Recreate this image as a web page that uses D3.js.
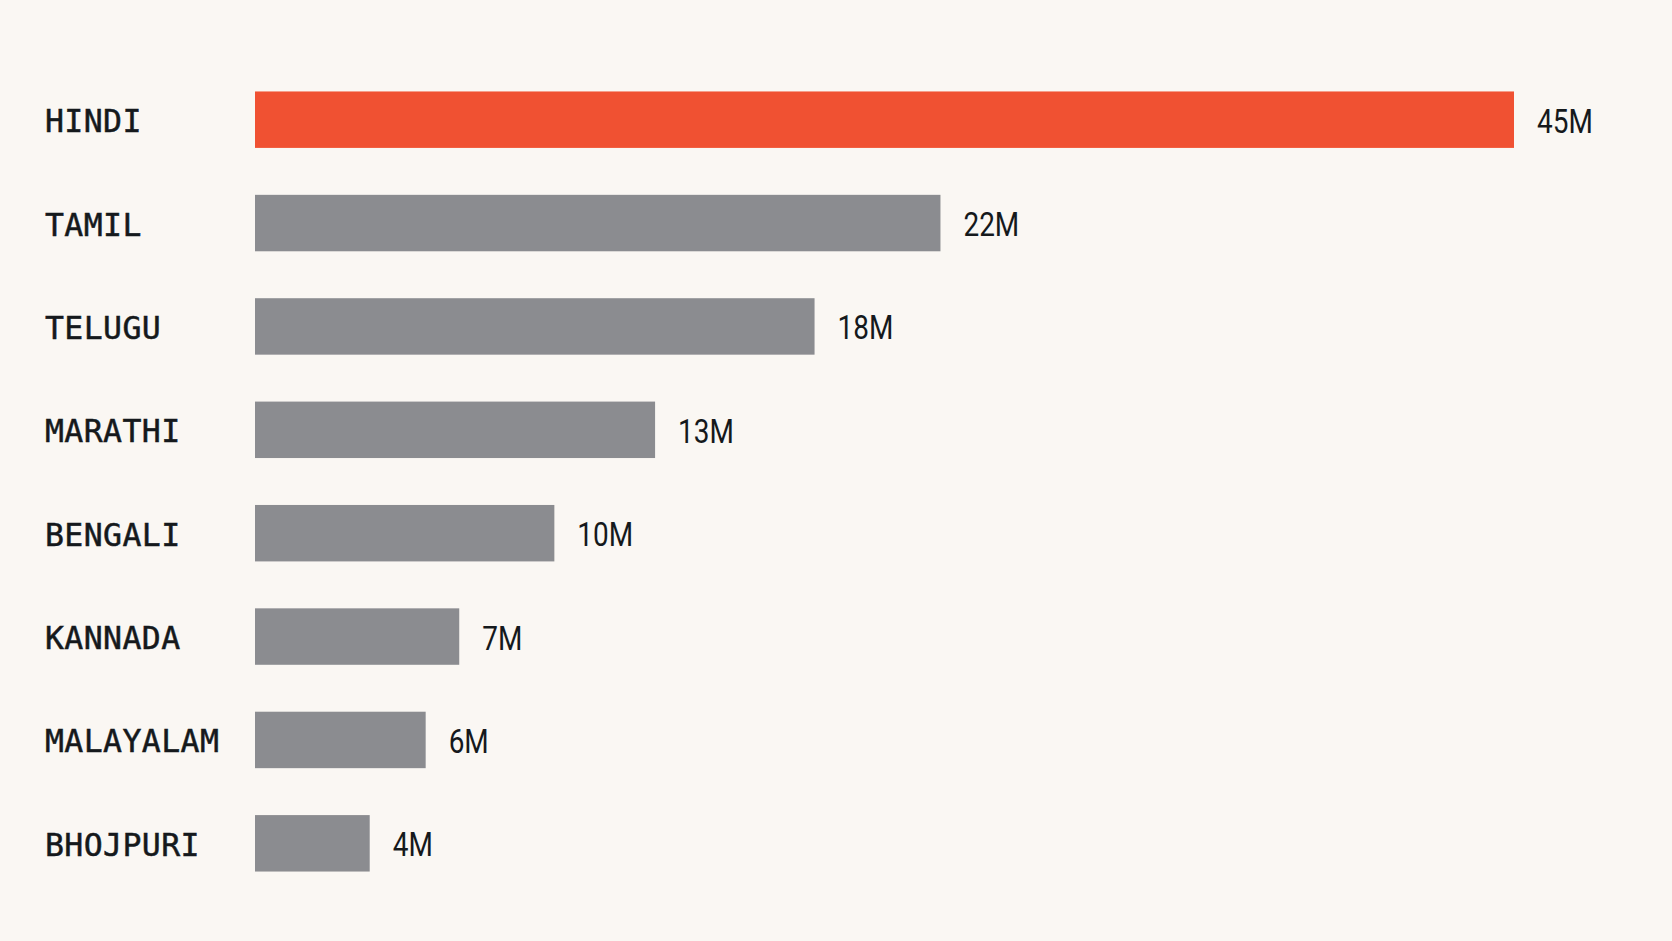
<!DOCTYPE html>
<html>
<head>
<meta charset="utf-8">
<script src="https://cdn.jsdelivr.net/npm/d3@7"></script>
<style>
  html, body { margin: 0; padding: 0; background: #faf7f3; }
</style>
</head>
<body>
<svg id="svg" width="1672" height="941"></svg>
<script>
const svg = d3.select("#svg");

const languages = ["HINDI", "TAMIL", "TELUGU", "MARATHI", "BENGALI", "KANNADA", "MALAYALAM", "BHOJPURI"];
// bar lengths as drawn in the picture (millions)
const values = [45, 24.5, 20, 14.3, 10.7, 7.3, 6.1, 4.1];
// the printed labels next to each bar
const valueLabels = ["45M", "22M", "18M", "13M", "10M", "7M", "6M", "4M"];

const width = 1672;
const height = 941;

svg.append("rect")
  .attr("width", width)
  .attr("height", height)
  .attr("fill", "#faf7f3");

const x = d3.scaleLinear()
  .domain([0, 45])
  .range([255, 1514]);

const y = d3.scaleBand()
  .domain(languages)
  .range([68, 895])
  .paddingInner(0.454)
  .paddingOuter(0.227);

const rows = svg.append("g")
  .selectAll("g")
  .data(languages)
  .join("g");

rows.append("rect")
  .attr("x", x(0))
  .attr("y", (d) => y(d))
  .attr("width", (d, i) => x(values[i]) - x(0))
  .attr("height", y.bandwidth())
  // only the first language is highlighted
  .attr("fill", (d, i) => (i === 0 ? "#f05132" : "#8b8c90"));

rows.append("text")
  .attr("x", 45)
  .attr("y", (d) => y(d) + y.bandwidth() / 2 + 12.5)
  .style("font-family", "'DejaVu Sans Mono', monospace")
  .style("font-size", "31.5px")
  .style("letter-spacing", "0.4px")
  .style("fill", "#15191c")
  .style("stroke", "#15191c")
  .style("stroke-width", 0.5)
  .text((d) => d);

// value labels use a slightly condensed sans, so squeeze Roboto horizontally
rows.append("text")
  .attr("transform", (d, i) =>
    `translate(${x(values[i]) + 23},${y(d) + y.bandwidth() / 2 + 13}) scale(0.86,1)`)
  .style("font-family", "Roboto, sans-serif")
  .style("font-size", "32.5px")
  .style("fill", "#15191c")
  .text((d, i) => valueLabels[i]);
</script>
</body>
</html>
